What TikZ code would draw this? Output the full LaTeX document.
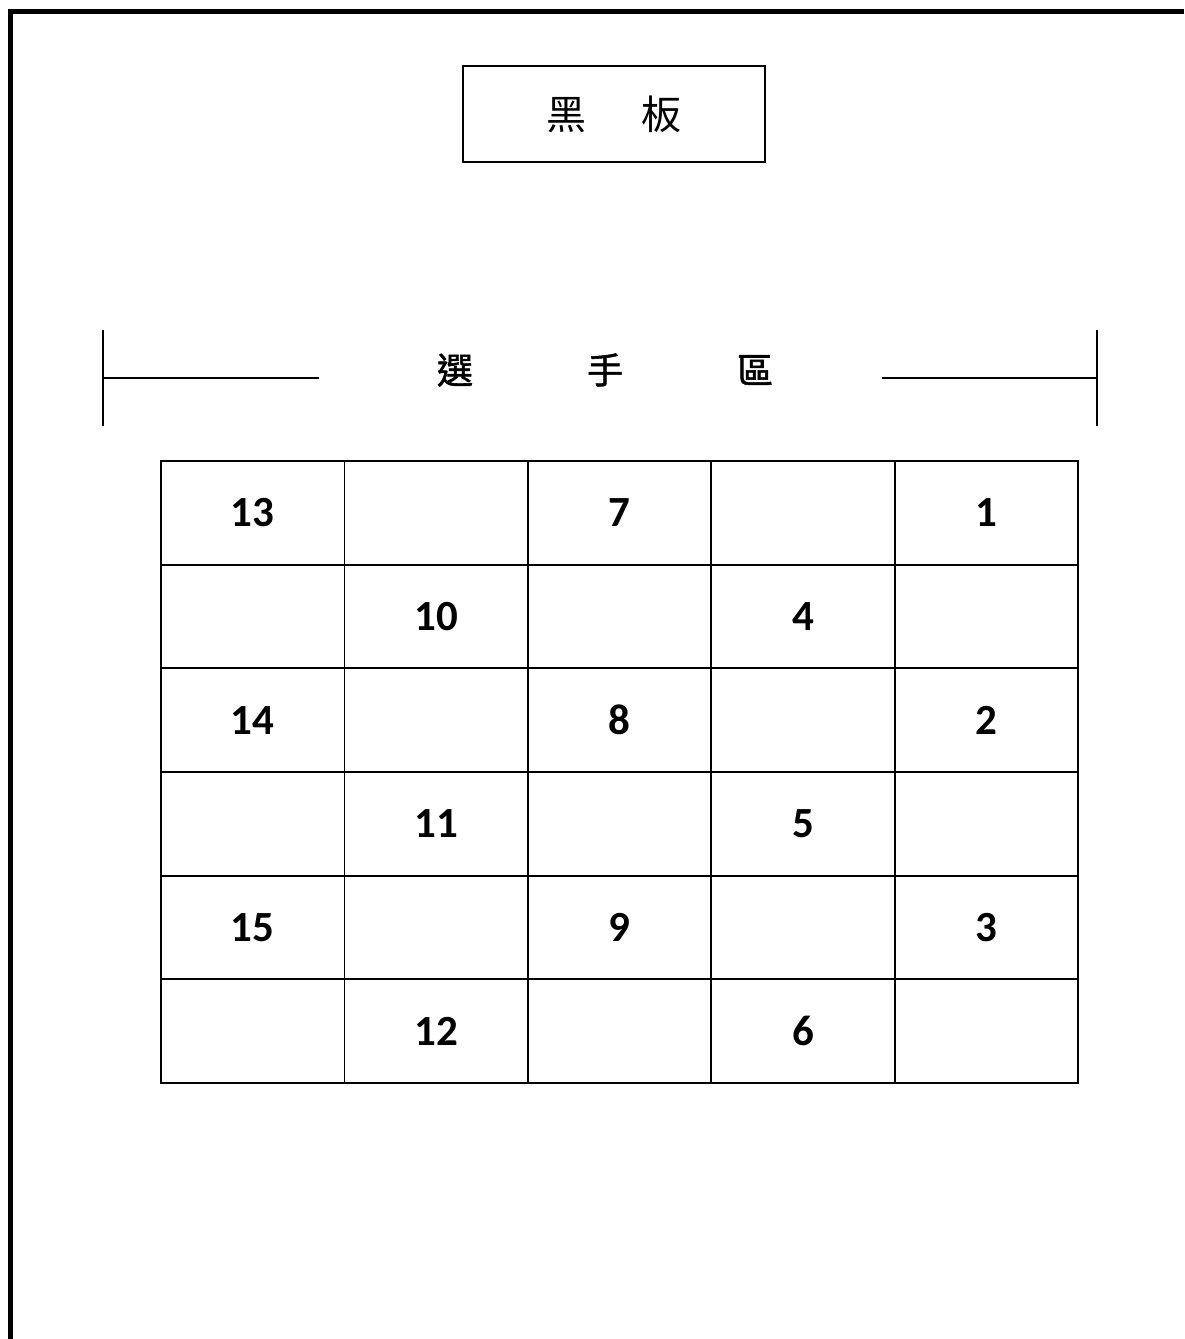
\documentclass[tikz,border=0pt]{standalone}
\usepackage{fontspec}
\setmainfont{Carlito}
\newfontfamily\cjk{Noto Sans CJK TC}
\newfontfamily\cjkbold{Noto Sans CJK TC}[AutoFakeBold=1.5]
\begin{document}
\begin{tikzpicture}[x=1pt,y=-1pt,
  frameline/.style={line width=5pt, line join=miter},
  thinline/.style={line width=1.8pt},
  boardbox/.style={draw, line width=1.8pt, minimum width=302pt, minimum height=96pt, inner sep=0pt,
    font=\cjk\fontsize{40}{44}\selectfont},
  zonetext/.style={inner sep=0pt, font=\cjkbold\bfseries\fontsize{36}{40}\selectfont},
  cell/.style={draw, line width=1.8pt, minimum width=183.4pt, minimum height=103.67pt, inner sep=0pt,
    font=\bfseries\fontsize{43}{48}\selectfont}
]
\useasboundingbox (0,0) rectangle (1184,1339);
% outer frame
\coordinate (ftr) at (1184,11);
\coordinate (ftl) at (10.7,11);
\coordinate (fbl) at (10.7,1339);
\draw[frameline] (ftr) -- (ftl) -- (fbl);
% blackboard
\node[boardbox] (board) at (614,114) {黑\hspace{55pt}板};
% player zone label
\node[zonetext] (zone) at (605,370) {選\hspace{114pt}手\hspace{114pt}區};
\coordinate (lbt) at (102.7,330);
\coordinate (lbb) at (102.7,426);
\coordinate (lbm) at (102.7,378);
\coordinate (lend) at (318.5,378);
\coordinate (rbt) at (1097,330);
\coordinate (rbb) at (1097,426);
\coordinate (rbm) at (1097,378);
\coordinate (rend) at (881.5,378);
\draw[thinline] (lbt) -- (lbb);
\draw[thinline] (lbm) -- (lend);
\draw[thinline] (rbt) -- (rbb);
\draw[thinline] (rbm) -- (rend);
% seating grid
\foreach \r/\labs in {0/{13,,7,,1},1/{,10,,4,},2/{14,,8,,2},3/{,11,,5,},4/{15,,9,,3},5/{,12,,6,}}{
  \foreach \l [count=\c from 0] in \labs {
    \node[cell] (c\r\c) at ({161+183.4*(\c+0.5)},{461+103.67*(\r+0.5)}) {\l};
  }
}
\end{tikzpicture}
\end{document}
